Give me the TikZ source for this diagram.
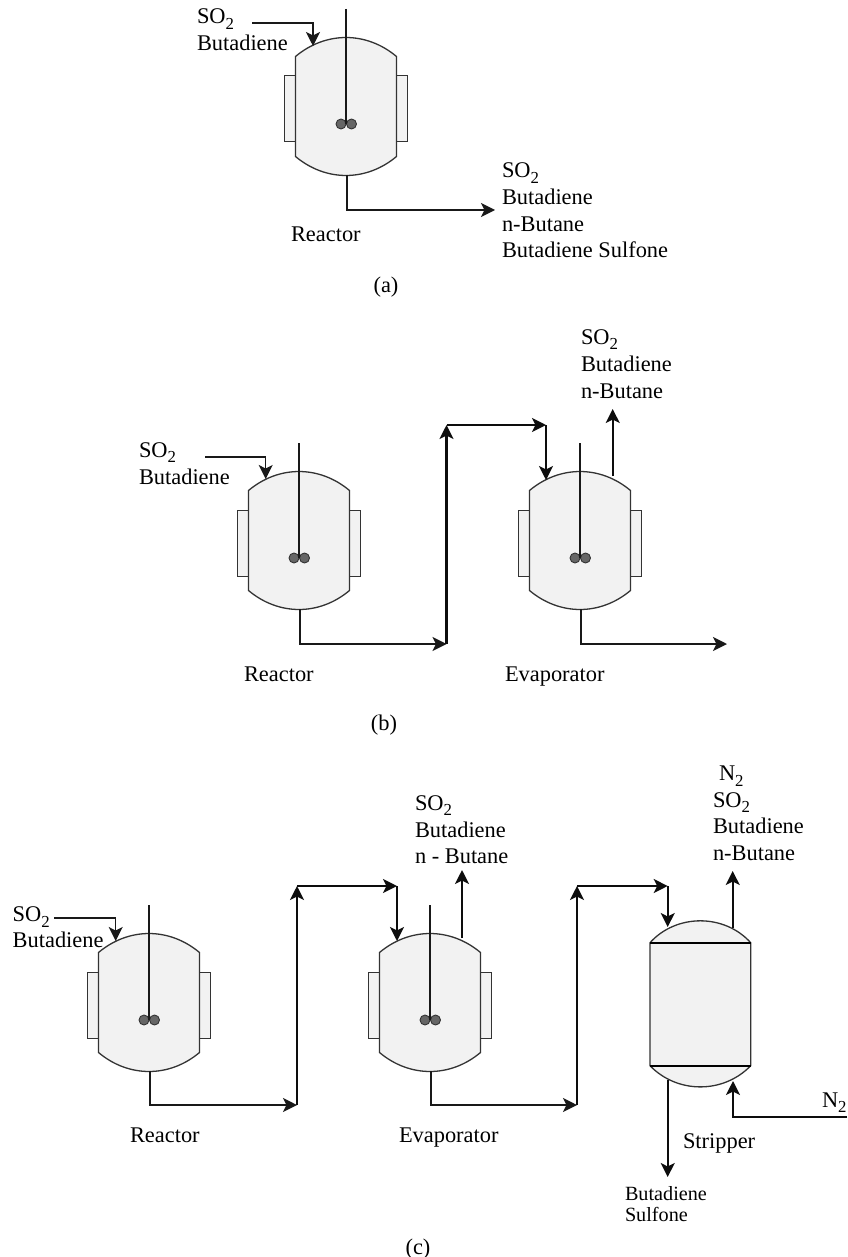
\documentclass[tikz,border=0pt]{standalone}
\usepackage{fontspec}
\setmainfont{Liberation Serif}
\usetikzlibrary{arrows.meta}
\definecolor{vfill}{HTML}{F2F2F2}
\definecolor{vline}{HTML}{333333}
\definecolor{impfill}{HTML}{666666}
\tikzset{
  x=1pt,y=-1pt,
  vessel/.style={draw=vline,fill=vfill,line width=1.3pt},
  jacket/.style={draw=vline,fill=vfill,line width=1pt},
  shaft/.style={draw=black!90,line width=1.9pt},
  imp/.style={draw=vline,fill=impfill,line width=0.9pt},
  pipe/.style={draw=black!95,line width=2.1pt},
  thinpipe/.style={draw=black!90,line width=1.3pt},
  midpipe/.style={draw=black!90,line width=1.6pt},
  tip/.style={-{Stealth[length=14pt,width=14pt,inset=3.5pt]}},
  lab/.style={anchor=base west,inner sep=0pt,outer sep=0pt,font=\fontsize{22.4}{27}\selectfont},
  smalllab/.style={anchor=base west,inner sep=0pt,outer sep=0pt,font=\fontsize{20.2}{21}\selectfont},
  captxt/.style={anchor=base,inner sep=0pt,outer sep=0pt,font=\fontsize{22.4}{27}\selectfont}
}
\newcommand{\subtwo}{\raisebox{-5.5pt}{\fontsize{16.8}{17}\selectfont 2}}
\newcommand{\sotwo}{SO\subtwo}
\newcommand{\ntwo}{N\subtwo}
% #1 name, #2 centre x, #3 top y
\newcommand{\stirred}[3]{%
  \draw[jacket] (#2-61.5,#3+38) rectangle (#2-50,#3+104);
  \draw[jacket] (#2+50,#3+38) rectangle (#2+61.5,#3+104);
  \draw[vessel] (#2-50.5,#3+18.5) to[bend left=40] (#2+50.5,#3+18.5)
     -- (#2+50.5,#3+118.5) to[bend left=40] (#2-50.5,#3+118.5) -- cycle;
  \filldraw[imp] (#2-5,#3+86) circle (5);
  \filldraw[imp] (#2+5.5,#3+86) circle (5);
  \coordinate (#1-shaft) at (#2,#3-29);
  \coordinate (#1-hub) at (#2,#3+86);
  \coordinate (#1-bottom) at (#2+1,#3+137);
  \draw[shaft] (#1-shaft) -- (#1-hub);
}
\begin{document}
\begin{tikzpicture}
\useasboundingbox (0,0) rectangle (847,1257);
% ---------- (a)
\stirred{ra}{346}{38}
\coordinate (ra-in0) at (252,23); \coordinate (ra-in1) at (313,23); \coordinate (ra-in2) at (313,46);
\coordinate (ra-c) at (347,210); \coordinate (ra-out) at (495,210);
\draw[thinpipe,tip] (ra-in0) -- (ra-in1) -- (ra-in2);
\draw[midpipe,tip] (ra-bottom) -- (ra-c) -- (ra-out);
\node[lab] (a1) at (197,24) {\sotwo};
\node[lab] (a2) at (197,51) {Butadiene};
\node[lab] (a3) at (502,178) {\sotwo};
\node[lab] (a4) at (502,205) {Butadiene};
\node[lab] (a5) at (502,232) {n-Butane};
\node[lab] (a6) at (502,258) {Butadiene Sulfone};
\node[lab] (a7) at (291,241) {Reactor};
\node[captxt] (acap) at (386,292) {(a)};
% ---------- (b)
\stirred{rb}{299}{472}
\stirred{eb}{580}{472}
\coordinate (rb-in0) at (205,457); \coordinate (rb-in1) at (265.7,457); \coordinate (rb-in2) at (265.7,479);
\coordinate (rb-c) at (300,644); \coordinate (rb-r0) at (446.5,644); \coordinate (rb-r1) at (446.5,425);
\coordinate (eb-in0) at (546,425); \coordinate (eb-in1) at (546,480);
\coordinate (eb-o0) at (612.7,476); \coordinate (eb-o1) at (612.7,409);
\coordinate (eb-c) at (581,644); \coordinate (eb-out) at (727,644);
\draw[thinpipe,tip] (rb-in0) -- (rb-in1) -- (rb-in2);
\draw[midpipe,tip] (rb-bottom) -- (rb-c) -- (rb-r0);
\draw[pipe,tip] (rb-r0) -- (rb-r1);
\draw[pipe,tip] (rb-r1) -- (eb-in0);
\draw[pipe,tip] (eb-in0) -- (eb-in1);
\draw[pipe,tip] (eb-o0) -- (eb-o1);
\draw[midpipe,tip] (eb-bottom) -- (eb-c) -- (eb-out);
\node[lab] (b1) at (139,457) {\sotwo};
\node[lab] (b3) at (139,484) {Butadiene};
\node[lab] (b4) at (581,344) {\sotwo};
\node[lab] (b5) at (581,371) {Butadiene};
\node[lab] (b6) at (581,398) {n-Butane};
\node[lab] (b7) at (244,681.7) {Reactor};
\node[lab] (b8) at (505,681.7) {Evaporator};
\node[captxt] (bcap) at (384,730) {(b)};
% ---------- (c)
\stirred{rc}{149}{934}
\stirred{ec}{430}{934}
\coordinate (rc-in0) at (54,918); \coordinate (rc-in1) at (115.7,918); \coordinate (rc-in2) at (115.7,941);
\coordinate (rc-c) at (150,1105); \coordinate (rc-r0) at (297,1105); \coordinate (rc-r1) at (297,886);
\coordinate (ec-in0) at (397,886); \coordinate (ec-in1) at (397,941);
\coordinate (ec-o0) at (462,938); \coordinate (ec-o1) at (462,870);
\coordinate (ec-c) at (431,1105); \coordinate (ec-r0) at (577,1105); \coordinate (ec-r1) at (577,886);
\coordinate (st-in0) at (667.7,886); \coordinate (st-in1) at (667.7,927);
\coordinate (st-o0) at (732.7,928); \coordinate (st-o1) at (732.7,871);
\coordinate (st-b0) at (667.7,1080); \coordinate (st-b1) at (667.7,1177);
\coordinate (st-n0) at (847,1116.7); \coordinate (st-n1) at (733,1116.7); \coordinate (st-n2) at (733,1081);
\draw[vessel] (650,942.7) to[bend left=48] (750.7,942.7) -- (750.7,1065.7) to[bend left=46] (650,1065.7) -- cycle;
\draw[pipe,draw=black] (650,942.7) -- (750.7,942.7);
\draw[pipe,draw=black] (650,1065.7) -- (750.7,1065.7);
\draw[thinpipe,tip] (rc-in0) -- (rc-in1) -- (rc-in2);
\draw[midpipe,tip] (rc-bottom) -- (rc-c) -- (rc-r0);
\draw[pipe,tip] (rc-r0) -- (rc-r1);
\draw[pipe,tip] (rc-r1) -- (ec-in0);
\draw[pipe,tip] (ec-in0) -- (ec-in1);
\draw[pipe,tip] (ec-o0) -- (ec-o1);
\draw[midpipe,tip] (ec-bottom) -- (ec-c) -- (ec-r0);
\draw[pipe,tip] (ec-r0) -- (ec-r1);
\draw[pipe,tip] (ec-r1) -- (st-in0);
\draw[pipe,tip] (st-in0) -- (st-in1);
\draw[pipe,tip] (st-o0) -- (st-o1);
\draw[pipe,tip] (st-b0) -- (st-b1);
\draw[pipe,tip] (st-n0) -- (st-n1) -- (st-n2);
\node[lab] (c1) at (12.7,921.7) {\sotwo};
\node[lab] (c2) at (12.7,947.7) {Butadiene};
\node[lab] (c3) at (415,810) {\sotwo};
\node[lab] (c4) at (415,837) {Butadiene};
\node[lab] (c5) at (415,863) {n - Butane};
\node[lab] (c6) at (719,780.7) {\ntwo};
\node[lab] (c7) at (713,807) {\sotwo};
\node[lab] (c8) at (713,833) {Butadiene};
\node[lab] (c9) at (713,860.7) {n-Butane};
\node[lab] (c10) at (822,1107) {\ntwo};
\node[lab] (c11) at (130,1142) {Reactor};
\node[lab] (c12) at (399,1142) {Evaporator};
\node[lab] (c13) at (683,1148) {Stripper};
\node[smalllab] (c14) at (625,1200.7) {Butadiene};
\node[smalllab] (c15) at (625,1221.7) {Sulfone};
\node[captxt] (ccap) at (418,1254) {(c)};
\end{tikzpicture}
\end{document}
